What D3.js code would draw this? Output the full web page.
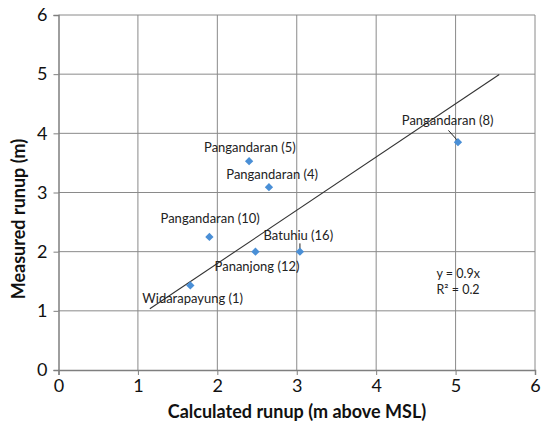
<!DOCTYPE html>
<html><head><meta charset="utf-8">
<script src="https://cdn.jsdelivr.net/npm/d3@7"></script>
<style>body{margin:0;background:#fff}svg{display:block}</style>
</head><body><svg id="c" width="545" height="425"></svg>
<script>
const names = ["Pangandaran (5)","Pangandaran (4)","Pangandaran (10)","Pananjong (12)","Widarapayung (1)","Batuhiu (16)","Pangandaran (8)"];
const calculated = [2.40, 2.65, 1.90, 2.48, 1.66, 3.04, 5.03];
const measured = [3.53, 3.09, 2.25, 2.00, 1.43, 2.00, 3.85];
// label offsets in data units (dx, dy) relative to point
const labelDx = [0.01, 0.04, 0.01, 0.02, 0.03, -0.02, -0.13];
const labelDy = [0.24, 0.22, 0.32, -0.25, -0.22, 0.28, 0.37];
const xTicks = [0,1,2,3,4,5,6];
const yTicks = [0,1,2,3,4,5,6];
const trendSlope = 0.9;
const trendRange = [1.15, 5.55];
const eqText = ["y = 0.9x", "R² = 0.2"];
const eqPos = [4.76, 1.55];

const svg = d3.select("#c");
const x = d3.scaleLinear().domain([0,6]).range([58.5,535]);
const y = d3.scaleLinear().domain([0,6]).range([370,15]);
const font = "Lato, Carlito, 'Open Sans', sans-serif";
const gridCol = "#8a8a8a";

// gridlines
svg.append("g").selectAll("line").data(xTicks.slice(1)).join("line")
  .attr("x1", d=>x(d)).attr("x2", d=>x(d)).attr("y1", y(0)).attr("y2", y(6))
  .attr("stroke", gridCol).attr("stroke-width", 1);
svg.append("g").selectAll("line").data(yTicks.slice(1)).join("line")
  .attr("x1", x(0)).attr("x2", x(6)).attr("y1", d=>y(d)).attr("y2", d=>y(d))
  .attr("stroke", gridCol).attr("stroke-width", 1);

// axes
const xAxis = svg.append("g").attr("transform", `translate(0,${y(0)})`)
  .call(d3.axisBottom(x).tickValues(xTicks).tickSize(5).tickPadding(4).tickFormat(d3.format("d")));
const yAxis = svg.append("g").attr("transform", `translate(${x(0)},0)`)
  .call(d3.axisLeft(y).tickValues(yTicks).tickSize(5).tickPadding(6).tickFormat(d3.format("d")));
[xAxis, yAxis].forEach(a => {
  a.select(".domain").attr("stroke", "#7f7f7f").attr("stroke-width", 1.5);
  a.selectAll(".tick line").attr("stroke", "#7f7f7f");
  a.selectAll(".tick text").attr("font-family", font).attr("font-size", 18).attr("fill", "#111");
});

// trendline
svg.append("line")
  .attr("x1", x(trendRange[0])).attr("y1", y(trendSlope*trendRange[0]))
  .attr("x2", x(trendRange[1])).attr("y2", y(trendSlope*trendRange[1]))
  .attr("stroke", "#333").attr("stroke-width", 1.1);

// leader lines
svg.append("line").attr("x1", x(calculated[5])).attr("x2", x(calculated[5]))
  .attr("y1", y(measured[5]+0.14)).attr("y2", y(measured[5]+0.02)).attr("stroke","#222");
svg.append("line").attr("x1", x(calculated[6]-0.12)).attr("x2", x(calculated[6]))
  .attr("y1", y(measured[6]+0.2)).attr("y2", y(measured[6]+0.02)).attr("stroke","#222");

// points
svg.append("g").selectAll("path").data(calculated).join("path")
  .attr("d", d3.symbol(d3.symbolDiamond2, 44)())
  .attr("transform", (d,i)=>`translate(${x(d)},${y(measured[i])})`)
  .attr("fill", "#4a8fd6");

// labels
svg.append("g").selectAll("text").data(names).join("text")
  .attr("x", (d,i)=>x(calculated[i]+labelDx[i]))
  .attr("y", (d,i)=>y(measured[i]+labelDy[i]))
  .attr("text-anchor","middle").attr("dominant-baseline","central")
  .attr("font-family", font).attr("font-size", 13).attr("fill","#222")
  .text(d=>d);

// equation
svg.append("g").selectAll("text").data(eqText).join("text")
  .attr("x", x(eqPos[0])).attr("y", (d,i)=>y(eqPos[1]) + i*16)
  .attr("font-family", font).attr("font-size", 12.5).attr("fill","#222")
  .text(d=>d);

// axis titles
svg.append("text").attr("x", 297).attr("y", 418).attr("text-anchor","middle")
  .attr("font-family", font).attr("font-weight","bold").attr("font-size", 18).attr("fill","#111")
  .text("Calculated runup (m above MSL)");
svg.append("text").attr("transform","translate(25,219) rotate(-90)").attr("text-anchor","middle")
  .attr("font-family", font).attr("font-weight","bold").attr("font-size", 18).attr("fill","#111")
  .text("Measured runup (m)");
</script></body></html>
